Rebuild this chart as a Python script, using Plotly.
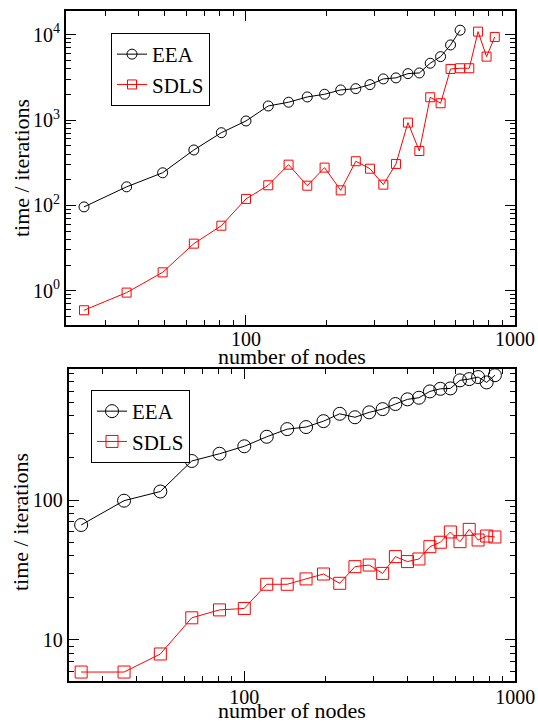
import plotly.graph_objects as go

# ---------------- data ----------------
nodes = [25, 36, 49, 64, 81, 100, 121, 144, 169, 196, 225, 256, 289, 324, 361,
         400, 441, 484, 529, 576, 625, 676, 729, 784, 841]

# top panel
top_eea = [96, 165, 241, 446, 711, 975, 1462, 1618, 1866, 2006, 2253, 2333, 2600,
           3034, 3119, 3500, 3563, 4634, 5537, 7590, 11300]
top_sdls = [5.9, 9.5, 16.4, 35.6, 57.8, 119, 172, 300, 170, 277, 150, 329, 269,
            175, 306, 933, 434, 1850, 1574, 3970, 4045, 4045, 10870, 5537, 9420]

# bottom panel
bot_eea = [66.3, 98.9, 115, 190, 214, 242, 283, 321, 332, 366, 413, 390, 423,
           446, 485, 524, 538, 597, 623, 627, 716, 731, 756, 692, 779]
bot_sdls = [5.9, 5.9, 7.94, 14.4, 16.4, 16.8, 25, 25, 27.3, 29.6, 25.4, 33.4, 34.3,
            29.9, 39.4, 36.3, 37.9, 46.4, 49.9, 59.1, 50.4, 61.7, 51.8, 55.3, 54.4]

x_tickvals = [100, 1000]
x_ticktext = ["100", "1000"]
top_y_tickvals = [10, 100, 1000, 10000]
top_y_ticktext = ["10<sup>0</sup>", "10<sup>2</sup>", "10<sup>3</sup>", "10<sup>4</sup>"]
bot_y_tickvals = [10, 100]
bot_y_ticktext = ["10", "100"]

x_title = "number of nodes"
y_title = "time / iterations"

# ---------------- figure ----------------
W, H = 538, 723
FONT = "Liberation Serif, Times New Roman, serif"
BLACK = "#000000"
RED = "#ff0000"


def minor_vals(lo_dec, hi_dec):
    vals = []
    for d in range(lo_dec, hi_dec + 1):
        for m in range(2, 10):
            vals.append(m * 10 ** d)
    return vals


fig = go.Figure()

fig.add_trace(go.Scatter(x=nodes[:len(top_eea)], y=top_eea, name="EEA", mode="lines+markers",
                         line=dict(color=BLACK, width=1),
                         marker=dict(symbol="circle-open", size=10, color=BLACK, line=dict(width=1)),
                         xaxis="x", yaxis="y", legend="legend"))
fig.add_trace(go.Scatter(x=nodes[:len(top_sdls)], y=top_sdls, name="SDLS", mode="lines+markers",
                         line=dict(color=RED, width=1),
                         marker=dict(symbol="square-open", size=9, color=RED, line=dict(width=1)),
                         xaxis="x", yaxis="y", legend="legend"))
fig.add_trace(go.Scatter(x=nodes[:len(bot_eea)], y=bot_eea, name="EEA", mode="lines+markers",
                         line=dict(color=BLACK, width=1),
                         marker=dict(symbol="circle-open", size=13, color=BLACK, line=dict(width=1)),
                         xaxis="x2", yaxis="y2", legend="legend2"))
fig.add_trace(go.Scatter(x=nodes[:len(bot_sdls)], y=bot_sdls, name="SDLS", mode="lines+markers",
                         line=dict(color=RED, width=1),
                         marker=dict(symbol="square-open", size=12, color=RED, line=dict(width=1)),
                         xaxis="x2", yaxis="y2", legend="legend2"))

axis_common = dict(type="log", showgrid=False, zeroline=False, showline=True,
                   linecolor=BLACK, linewidth=2, mirror="allticks",
                   ticks="inside", ticklen=10, tickwidth=1, tickcolor=BLACK,
                   ticklabeloverflow="allow", automargin=False,
                   tickfont=dict(family=FONT, size=20, color=BLACK))
minor_common = dict(tickmode="array", ticks="inside", ticklen=5, tickwidth=1,
                    tickcolor=BLACK, showgrid=False)

fig.update_layout(
    width=W, height=H, autosize=False,
    margin=dict(l=0, r=0, t=0, b=0, pad=0),
    paper_bgcolor="white", plot_bgcolor="white",
    font=dict(family=FONT, size=22, color=BLACK),
    xaxis=dict(**axis_common, domain=[66 / W, 515 / W], range=[1.331, 3.0],
               tickmode="array", tickvals=x_tickvals, ticktext=x_ticktext,
               ticklabelstandoff=-5,
               minor=dict(**minor_common, tickvals=minor_vals(1, 2)),
               anchor="y"),
    yaxis=dict(**axis_common, domain=[1 - 325 / H, 1 - 11 / H], range=[0.598, 4.278],
               tickmode="array", tickvals=top_y_tickvals, ticktext=top_y_ticktext,
               minor=dict(**minor_common, tickvals=minor_vals(0, 4)),
               anchor="x"),
    xaxis2=dict(**axis_common, domain=[68.7 / W, 515.3 / W], range=[1.352, 3.0],
                tickmode="array", tickvals=x_tickvals, ticktext=x_ticktext,
                ticklabelstandoff=-3,
                minor=dict(**minor_common, tickvals=minor_vals(1, 2)),
                anchor="y2"),
    yaxis2=dict(**axis_common, domain=[1 - 680.7 / H, 1 - 369 / H], range=[0.709, 2.936],
                tickmode="array", tickvals=bot_y_tickvals, ticktext=bot_y_ticktext,
                minor=dict(**minor_common, tickvals=minor_vals(0, 2)),
                anchor="x2"),
    legend=dict(x=111 / W, y=1 - 33 / H, xanchor="left", yanchor="top",
                bgcolor="white", bordercolor=BLACK, borderwidth=1, itemwidth=30,
                font=dict(family=FONT, size=21, color=BLACK), tracegroupgap=0),
    legend2=dict(x=91 / W, y=1 - 390 / H, xanchor="left", yanchor="top",
                 bgcolor="white", bordercolor=BLACK, borderwidth=1, itemwidth=30,
                 font=dict(family=FONT, size=21, color=BLACK), tracegroupgap=0),
    showlegend=True,
)

# axis titles as annotations
ann_font = dict(family=FONT, size=22, color=BLACK)
fig.add_annotation(text=x_title, x=292 / W, y=1 - 356 / H, xref="paper", yref="paper",
                   xanchor="center", yanchor="middle", showarrow=False, font=ann_font)
fig.add_annotation(text=x_title, x=292 / W, y=1 - 710 / H, xref="paper", yref="paper",
                   xanchor="center", yanchor="middle", showarrow=False, font=ann_font)
fig.add_annotation(text=y_title, x=21 / W, y=1 - 168 / H, xref="paper", yref="paper",
                   xanchor="center", yanchor="middle", showarrow=False, textangle=-90, font=ann_font)
fig.add_annotation(text=y_title, x=20 / W, y=1 - 522 / H, xref="paper", yref="paper",
                   xanchor="center", yanchor="middle", showarrow=False, textangle=-90, font=ann_font)

fig.write_html("out.html", config={"responsive": False},
               default_width="538px", default_height="723px")
